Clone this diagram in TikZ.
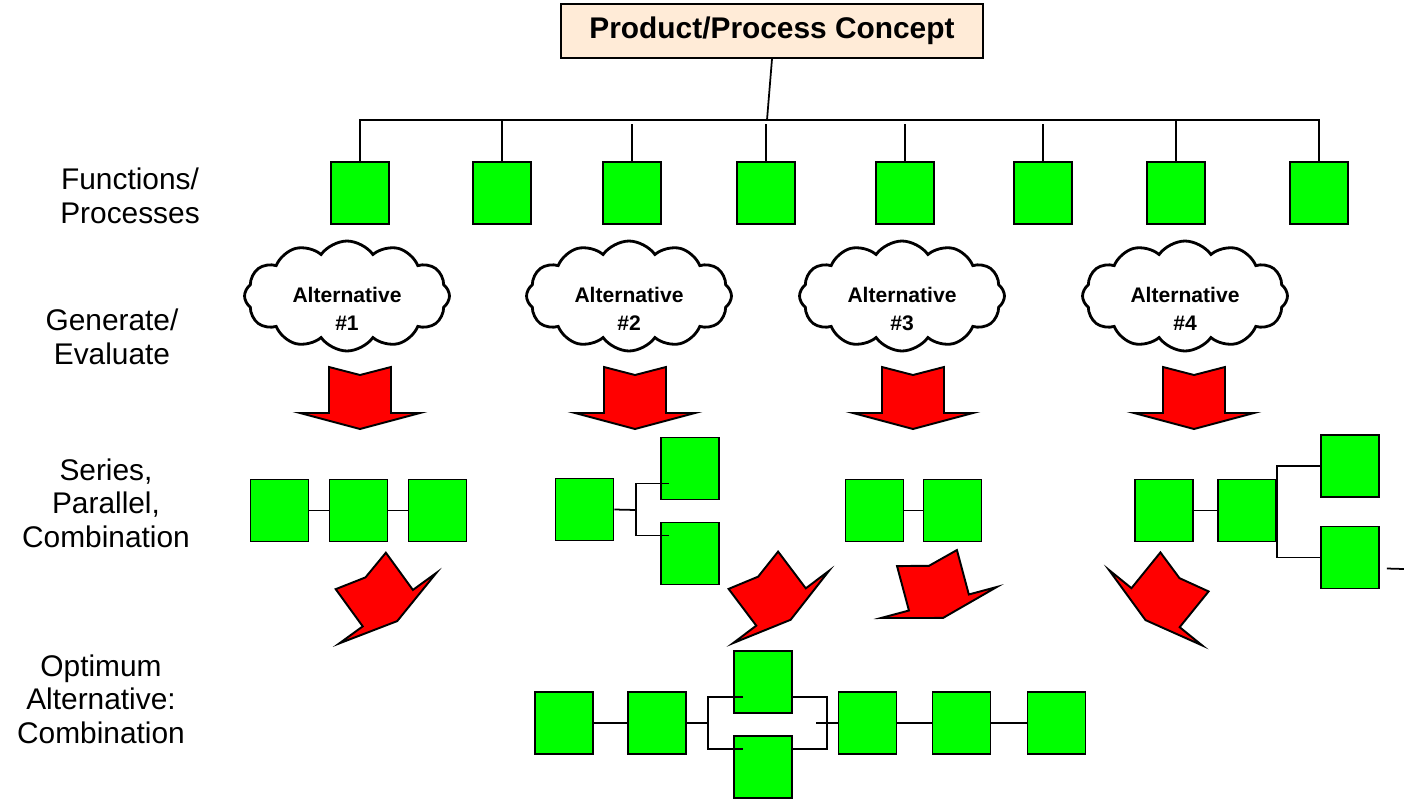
\documentclass[tikz,border=0pt]{standalone}
\usepackage{fontspec}
\setmainfont{Liberation Sans}
\usetikzlibrary{shapes.symbols}
\definecolor{fGreen}{HTML}{00FF00}
\definecolor{fRed}{HTML}{FF0000}
\definecolor{fPeach}{HTML}{FFEBD7}
\tikzset{pics/downarrow/.style={code={
  \draw[line width=1.1pt, fill=fRed, line join=miter]
    (-31,-31) -- (0,-23) -- (31,-31) -- (31,15) -- (60,15) -- (0,31) -- (-60,15) -- (-31,15) -- cycle;}}}
\begin{document}
\begin{tikzpicture}[x=0.02cm, y=-0.02cm,
    fbox/.style={draw, line width=1.1pt, fill=fGreen, minimum width=1.16cm, minimum height=1.24cm, inner sep=0pt},
    wire/.style={line width=1pt},
    rowlabel/.style={align=center, font=\fontsize{17}{19}\selectfont},
    concept/.style={draw, line width=1.1pt, fill=fPeach, minimum width=8.44cm, minimum height=1.08cm,
      font=\bfseries\fontsize{17}{20}\selectfont},
    cloudy/.style={cloud, cloud puffs=12, cloud puff arc=110, aspect=1.9, draw, line width=1.6pt,
      fill=white, minimum width=4.1cm, minimum height=2.2cm, inner sep=0pt},
    alttext/.style={align=center, font=\bfseries\fontsize{12}{16}\selectfont}]
  \useasboundingbox (0,0) rectangle (1404,799);
  % concept and its functions
  \node[concept] (pc) at (772,31) {Product/Process Concept};
  \foreach \x [count=\i] in {360,502,632,766,905,1043,1176,1319}
    \node[fbox] (f\i) at (\x,193) {};
  \coordinate (hub) at (767,120);
  \draw[wire] (pc.south) -- (hub);
  \draw[wire] (f1.north) |- (f8.north |- hub) -- (f8.north);
  \draw[wire] (f2.north) -- (f2.north |- hub);
  \draw[wire] (f7.north) -- (f7.north |- hub);
  \foreach \i in {3,...,6}
    \draw[wire] (f\i.north) -- ++(0,-37);
  % row labels
  \node[rowlabel] (lfun) at (130,196) {Functions/\\Processes};
  \node[rowlabel] (lgen) at (112,337) {Generate/\\Evaluate};
  \node[rowlabel] (lser) at (106,503) {Series,\\Parallel,\\Combination};
  \node[rowlabel] (lopt) at (101,699) {Optimum\\Alternative:\\Combination};
  % alternatives
  \foreach \x/\t [count=\i] in {347/1,629/2,902/3,1185/4} {
    \node[cloudy] (alt\i) at (\x,296) {};
    \node[alttext] (altt\i) at (\x,309) {Alternative\\\#\t};
  }
  \foreach \x in {360,635,913,1194}
    \pic at (\x,398) {downarrow};
  % series / parallel variants
  \node[fbox] (s1a) at (279.5,510.5) {};
  \node[fbox] (s1b) at (358.5,510.5) {};
  \node[fbox] (s1c) at (437.5,510.5) {};
  \node[fbox] (s2a) at (584.5,509.5) {};
  \node[fbox] (s2b) at (690,468.5) {};
  \node[fbox] (s2c) at (690,553.5) {};
  \node[fbox] (s3a) at (874.5,510.5) {};
  \node[fbox] (s3b) at (952.5,510.5) {};
  \node[fbox] (s4a) at (1164,510.5) {};
  \node[fbox] (s4b) at (1247,510.5) {};
  \node[fbox] (s4c) at (1350,466) {};
  \node[fbox] (s4d) at (1350,557.5) {};
  \draw[wire] (s1a) -- (s1b) -- (s1c);
  \coordinate (j2) at (636,510);
  \draw[wire] (s2a.east) -- (j2);
  \draw[wire] ([shift={(9,15)}]s2b.west) -| (j2) |- ([shift={(9,-18)}]s2c.west);
  \draw[wire] (s3a) -- (s3b);
  \draw[wire] (s4a) -- (s4b);
  \draw[wire] (s4c.west) -- (s4b.east |- s4c.west) -- (s4b.east |- s4d.west) -- (s4d.west);
  \coordinate (edge) at (1404,569);
  \draw[wire] ([shift={(7,11)}]s4d.east) -- (edge);
  \pic[rotate=36] at (379,596) {downarrow};
  \pic[rotate=37] at (772,595) {downarrow};
  \pic[rotate=15] at (935,588) {downarrow};
  \pic[rotate=-39] at (1165,596) {downarrow};
  % optimum combination
  \node[fbox] (o1) at (564,723) {};
  \node[fbox] (o2) at (657,723) {};
  \node[fbox] (o3) at (763,682) {};
  \node[fbox] (o4) at (763,767) {};
  \node[fbox] (o5) at (867.5,723) {};
  \node[fbox] (o6) at (961.5,723) {};
  \node[fbox] (o7) at (1056.5,723) {};
  \coordinate (jl) at (708,723);
  \coordinate (jr) at (827,723);
  \draw[wire] (o1) -- (o2);
  \draw[wire] (o2.east) -- (jl);
  \draw[wire] ([shift={(10,15)}]o3.west) -| (jl) |- ([shift={(10,-18)}]o4.west);
  \draw[wire] ([shift={(0,15)}]o3.east) -| (jr) |- ([shift={(0,-18)}]o4.east);
  \draw[wire] ([shift={(-11,0)}]jr) -- (o5.west);
  \draw[wire] (o5) -- (o6) -- (o7);
\end{tikzpicture}
\end{document}
